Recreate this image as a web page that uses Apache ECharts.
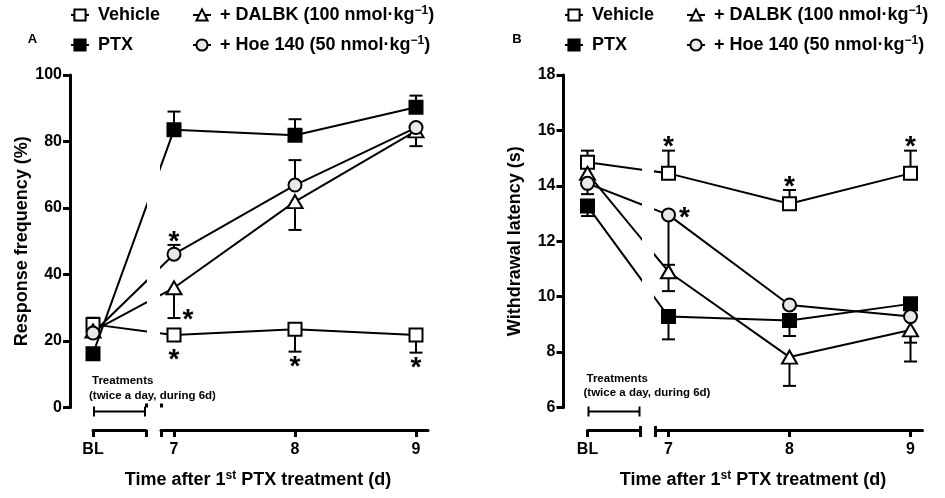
<!DOCTYPE html>
<html>
<head>
<meta charset="utf-8">
<script src="https://cdn.jsdelivr.net/npm/echarts@6/dist/echarts.min.js"></script>
<style>html,body{margin:0;padding:0;background:#fff}#c{width:945px;height:498px}</style>
</head>
<body>
<div id="c"></div>
<script>
// ================= DATA =================
const days = ['BL', '7', '8', '9'];
const groupNames = ['Vehicle', 'PTX', '+ DALBK (100 nmol·kg⁻¹)', '+ Hoe 140 (50 nmol·kg⁻¹)'];
const yTicksA = [0, 20, 40, 60, 80, 100];
const yTicksB = [6, 8, 10, 12, 14, 16, 18];

// Panel A: response frequency (%)
const vehicleA = [25.0, 21.8, 23.5, 21.8];
const ptxA     = [16.2, 83.5, 81.9, 90.3];
const dalbkA   = [23.0, 36.0, 61.9, 83.2];
const hoeA     = [22.4, 46.1, 66.9, 84.2];
// error bar end values (null = not visible)
const vehicleErrA = [27.0, null, 16.8, 16.5];
const ptxErrA     = [null, 89.0, 86.7, 93.8];
const dalbkErrA   = [null, 26.9, 53.4, 78.6];
const hoeErrA     = [null, 48.9, 74.4, null];

// Panel B: withdrawal latency (s)
const vehicleB = [14.85, 14.45, 13.35, 14.45];
const ptxB     = [13.27, 9.28, 9.14, 9.74];
const dalbkB   = [14.45, 10.90, 7.82, 8.80];
const hoeB     = [14.09, 12.95, 9.70, 9.28];
const vehicleErrB = [15.27, 15.27, 13.85, 15.27];
const ptxErrB     = [12.91, 8.46, 8.58, null];
const dalbkErrB   = [null, 10.20, 6.78, 7.66];
const hoeErrB     = [13.70, 11.15, null, 8.34];

// significance marks: [group index, day index, side]
const starsA = [[3, 1, 'above'], [2, 1, 'capright'], [0, 1, 'below'], [0, 2, 'below'], [0, 3, 'below']];
const starsB = [[0, 1, 'above'], [3, 1, 'right'], [0, 2, 'above'], [0, 3, 'above']];

const treatmentNote = ['Treatments', '(twice a day, during 6d)'];
const xTitleParts = ['Time after 1', 'st', ' PTX treatment (d)'];
const yNameA = 'Response frequency (%)';
const yNameB = 'Withdrawal latency (s)';

// ================= LAYOUT / STYLE =================
const FONT = '"Liberation Sans", Arial, Helvetica, sans-serif';
const PX_DAY = 121;          // pixels per day on the right segment
const BL_SHIFT = 81;         // BL is drawn this many px left of day 7
const blPos = 7 - BL_SHIFT / PX_DAY;
const xPos = days.map((d, i) => i === 0 ? blPos : Number(d));
const GRID_TOP = 75, GRID_H = 332.5;
const LEFT_W = 53, GAP_W = 15, RIGHT_W = 267;
const X_OFFSET = 22.5;
const STAR_SIZE = 28;

const symbols = ['rect', 'rect', 'triangle', 'circle'];
const symbolSizes = [13, 13, [15, 13], 13];
const fills = ['#ffffff', '#000000', '#ffffff', '#e8e8e8'];

const panels = [
  { blX: 93, axisX: 70, yMin: 0, yMax: 100, yTicks: yTicksA, yName: yNameA, label: 'A', labelX: 32.5,
    titleX: 258, legendX: [70, 192], groups: [vehicleA, ptxA, dalbkA, hoeA],
    errs: [vehicleErrA, ptxErrA, dalbkErrA, hoeErrA], stars: starsA, note: [27, 12] },
  { blX: 587.5, axisX: 563.5, yMin: 6, yMax: 18, yTicks: yTicksB, yName: yNameB, label: 'B', labelX: 517,
    titleX: 753, legendX: [564, 686], groups: [vehicleB, ptxB, dalbkB, hoeB],
    errs: [vehicleErrB, ptxErrB, dalbkErrB, hoeErrB], stars: starsB, note: [29, 15] }
];

const black = '#000';
const richSup = { s: { fontSize: 12, fontWeight: 'bold', fontFamily: FONT, color: black, verticalAlign: 'top', lineHeight: 12 } };
function richName(name) { return name.replace('⁻¹', '{s|−1}'); }
function dayLabel(v) {
  for (let i = 0; i < xPos.length; i++) if (Math.abs(xPos[i] - v) < 1e-6) return days[i];
  return '';
}

function xMain(gridIndex, min, max, ticks, labels) {
  return {
    type: 'value', gridIndex, min, max, position: 'bottom', offset: X_OFFSET,
    axisLine: { show: true, onZero: false, lineStyle: { color: black, width: 3 } },
    axisTick: { show: true, customValues: ticks, length: 7, lineStyle: { color: black, width: 3 } },
    axisLabel: { show: true, customValues: labels, formatter: dayLabel, color: black, fontSize: 16,
      fontWeight: 'bold', fontFamily: FONT, margin: 12 },
    splitLine: { show: false }
  };
}
function xCap(gridIndex, min, max, at) {
  return {
    type: 'value', gridIndex, min, max, position: 'bottom', offset: X_OFFSET,
    axisLine: { show: false },
    axisTick: { show: true, inside: true, customValues: [at], length: 4, lineStyle: { color: black, width: 3 } },
    axisLabel: { show: false }, splitLine: { show: false }
  };
}

const grids = [], xAxes = [], yAxes = [], series = [], legends = [], graphics = [];

panels.forEach((P) => {
  const gL = grids.length, gR = gL + 1;
  const lMin = blPos, lMax = blPos + LEFT_W / PX_DAY;
  const rMin = blPos + (LEFT_W + GAP_W) / PX_DAY, rMax = rMin + RIGHT_W / PX_DAY;
  grids.push({ left: P.blX, top: GRID_TOP, width: LEFT_W, height: GRID_H, containLabel: false, outerBoundsMode: 'none' });
  grids.push({ left: P.blX + LEFT_W + GAP_W, top: GRID_TOP, width: RIGHT_W, height: GRID_H, containLabel: false, outerBoundsMode: 'none' });

  const xL = xAxes.length;
  xAxes.push(xMain(gL, lMin, lMax, [lMin, lMax], [xPos[0]]));
  xAxes.push(xCap(gL, lMin, lMax, lMax));
  const xR = xAxes.length;
  xAxes.push(xMain(gR, rMin, rMax, [rMin].concat(xPos.slice(1)), xPos.slice(1)));
  xAxes.push(xCap(gR, rMin, rMax, rMin));

  const yL = yAxes.length, yR = yL + 1;
  yAxes.push({
    type: 'value', gridIndex: gL, min: P.yMin, max: P.yMax, position: 'left', offset: P.blX - P.axisX,
    axisLine: { show: true, onZero: false, lineStyle: { color: black, width: 3 } },
    axisTick: { show: true, customValues: P.yTicks, length: 7, lineStyle: { color: black, width: 3 } },
    axisLabel: { show: true, customValues: P.yTicks, color: black, fontSize: 16, fontWeight: 'bold', fontFamily: FONT, margin: 8 },
    splitLine: { show: false },
    name: P.yName, nameLocation: 'middle', nameGap: 39,
    nameTextStyle: { color: black, fontSize: 18, fontWeight: 'bold', fontFamily: FONT }
  });
  yAxes.push({ type: 'value', gridIndex: gR, min: P.yMin, max: P.yMax, show: false });

  // lines + symbols, drawn in both halves of the broken axis (each clipped to its half)
  P.groups.forEach((vals, gi) => {
    [[xL, yL], [xR, yR]].forEach(([xi, yi]) => {
      series.push({
        type: 'line', name: groupNames[gi], xAxisIndex: xi, yAxisIndex: yi, z: 2,
        data: vals.map((v, i) => [xPos[i], v]),
        symbol: symbols[gi], symbolSize: symbolSizes[gi], showSymbol: true, showAllSymbol: true,
        clip: true, animation: false, silent: true,
        lineStyle: { color: black, width: 2 },
        itemStyle: { color: fills[gi], borderColor: black, borderWidth: 2 },
        emphasis: { disabled: true }
      });
    });
  });

  // error bars
  const errData = [];
  P.groups.forEach((vals, gi) => {
    P.errs[gi].forEach((e, i) => { if (e != null) errData.push([xPos[i], vals[i], e]); });
  });
  series.push({
    type: 'custom', name: 'err', xAxisIndex: xR, yAxisIndex: yR, z: 1, silent: true, animation: false,
    encode: { x: 0, y: [1, 2] }, data: errData,
    renderItem(params, api) {
      const p0 = api.coord([api.value(0), api.value(1)]);
      const p1 = api.coord([api.value(0), api.value(2)]);
      return { type: 'group', children: [
        { type: 'line', shape: { x1: p0[0], y1: p0[1], x2: p1[0], y2: p1[1] }, style: { stroke: black, lineWidth: 2 } },
        { type: 'line', shape: { x1: p1[0] - 6.5, y1: p1[1], x2: p1[0] + 6.5, y2: p1[1] }, style: { stroke: black, lineWidth: 2 } }
      ] };
    }
  });

  // stars
  const starData = [], starOff = [];
  P.stars.forEach(([gi, di, side]) => {
    const v = P.groups[gi][di], e = P.errs[gi][di];
    let anchor = v, dx = 0, dy = 0;
    if (side === 'above') {
      if (e != null && e > v) { anchor = e; dy = -8.5; } else dy = -16;
    } else if (side === 'below') {
      if (e != null && e < v) { anchor = e; dy = 10; } else dy = 20;
    } else if (side === 'right') { dx = 16; dy = -2; }
    else if (side === 'capright') { anchor = e; dx = 14; dy = -3; }
    starData.push([xPos[di], anchor]);
    starOff.push([dx, dy]);
  });
  series.push({
    type: 'custom', name: 'stars', xAxisIndex: xR, yAxisIndex: yR, z: 3, silent: true, animation: false,
    data: starData,
    renderItem(params, api) {
      const p = api.coord([api.value(0), api.value(1)]);
      const o = starOff[params.dataIndex];
      return { type: 'text', x: p[0] + o[0], y: p[1] + o[1] + STAR_SIZE * 0.2,
        style: { text: '*', fontSize: STAR_SIZE, fontWeight: 'bold', fontFamily: FONT, fill: black, align: 'center', verticalAlign: 'middle' } };
    }
  });

  // treatment bracket + note
  const note = P.note, yBase = P.yMin;
  series.push({
    type: 'custom', name: 'note', xAxisIndex: xL, yAxisIndex: yL, z: 3, silent: true, animation: false,
    data: [[lMin, lMax]],
    renderItem(params, api) {
      const a = api.coord([api.value(0), yBase]);
      const b = api.coord([api.value(1), yBase]);
      const y = a[1] + 4;
      const ts = { fontSize: 11.5, fontWeight: 'bold', fontFamily: FONT, fill: black, align: 'left', verticalAlign: 'middle' };
      return { type: 'group', children: [
        { type: 'line', shape: { x1: a[0] + 1, y1: y, x2: b[0] - 1, y2: y }, style: { stroke: black, lineWidth: 2 } },
        { type: 'line', shape: { x1: a[0] + 1, y1: y - 5, x2: a[0] + 1, y2: y + 5 }, style: { stroke: black, lineWidth: 2 } },
        { type: 'line', shape: { x1: b[0] - 1, y1: y - 5, x2: b[0] - 1, y2: y + 5 }, style: { stroke: black, lineWidth: 2 } },
        { type: 'text', x: a[0] - 1, y: a[1] - note[0], style: Object.assign({ text: treatmentNote[0] }, ts) },
        { type: 'text', x: a[0] - 4, y: a[1] - note[1], style: Object.assign({ text: treatmentNote[1] }, ts) }
      ] };
    }
  });

  // legends (two columns)
  [[0, 1], [2, 3]].forEach((idx, col) => {
    legends.push({
      show: true, orient: 'vertical', left: P.legendX[col], top: 5, padding: 0,
      itemWidth: 18, itemHeight: 14, itemGap: 10, selectedMode: false,
      data: idx.map(i => groupNames[i]),
      formatter: richName,
      textStyle: { color: black, fontSize: 18, fontWeight: 'bold', fontFamily: FONT, lineHeight: 20,
        padding: [0, 0, 0, 4], rich: richSup }
    });
  });

  graphics.push({ type: 'text', x: P.labelX, y: 39.5,
    style: { text: P.label, fontSize: 13, fontWeight: 'bold', fontFamily: FONT, fill: black, align: 'center', verticalAlign: 'middle' } });
  graphics.push({ type: 'text', x: P.titleX, y: 480,
    style: { text: xTitleParts[0] + '{s|' + xTitleParts[1] + '}' + xTitleParts[2], fontSize: 18, fontWeight: 'bold',
      fontFamily: FONT, fill: black, align: 'center', verticalAlign: 'middle', lineHeight: 20,
      rich: { s: { fontSize: 12, fontWeight: 'bold', fontFamily: FONT, fill: black, verticalAlign: 'top', lineHeight: 12 } } } });
});

const chart = echarts.init(document.getElementById('c'), null, { renderer: 'canvas', width: 945, height: 498 });
chart.setOption({
  animation: false,
  backgroundColor: '#ffffff',
  grid: grids, xAxis: xAxes, yAxis: yAxes, series, legend: legends, graphic: graphics
});
</script>
</body>
</html>
